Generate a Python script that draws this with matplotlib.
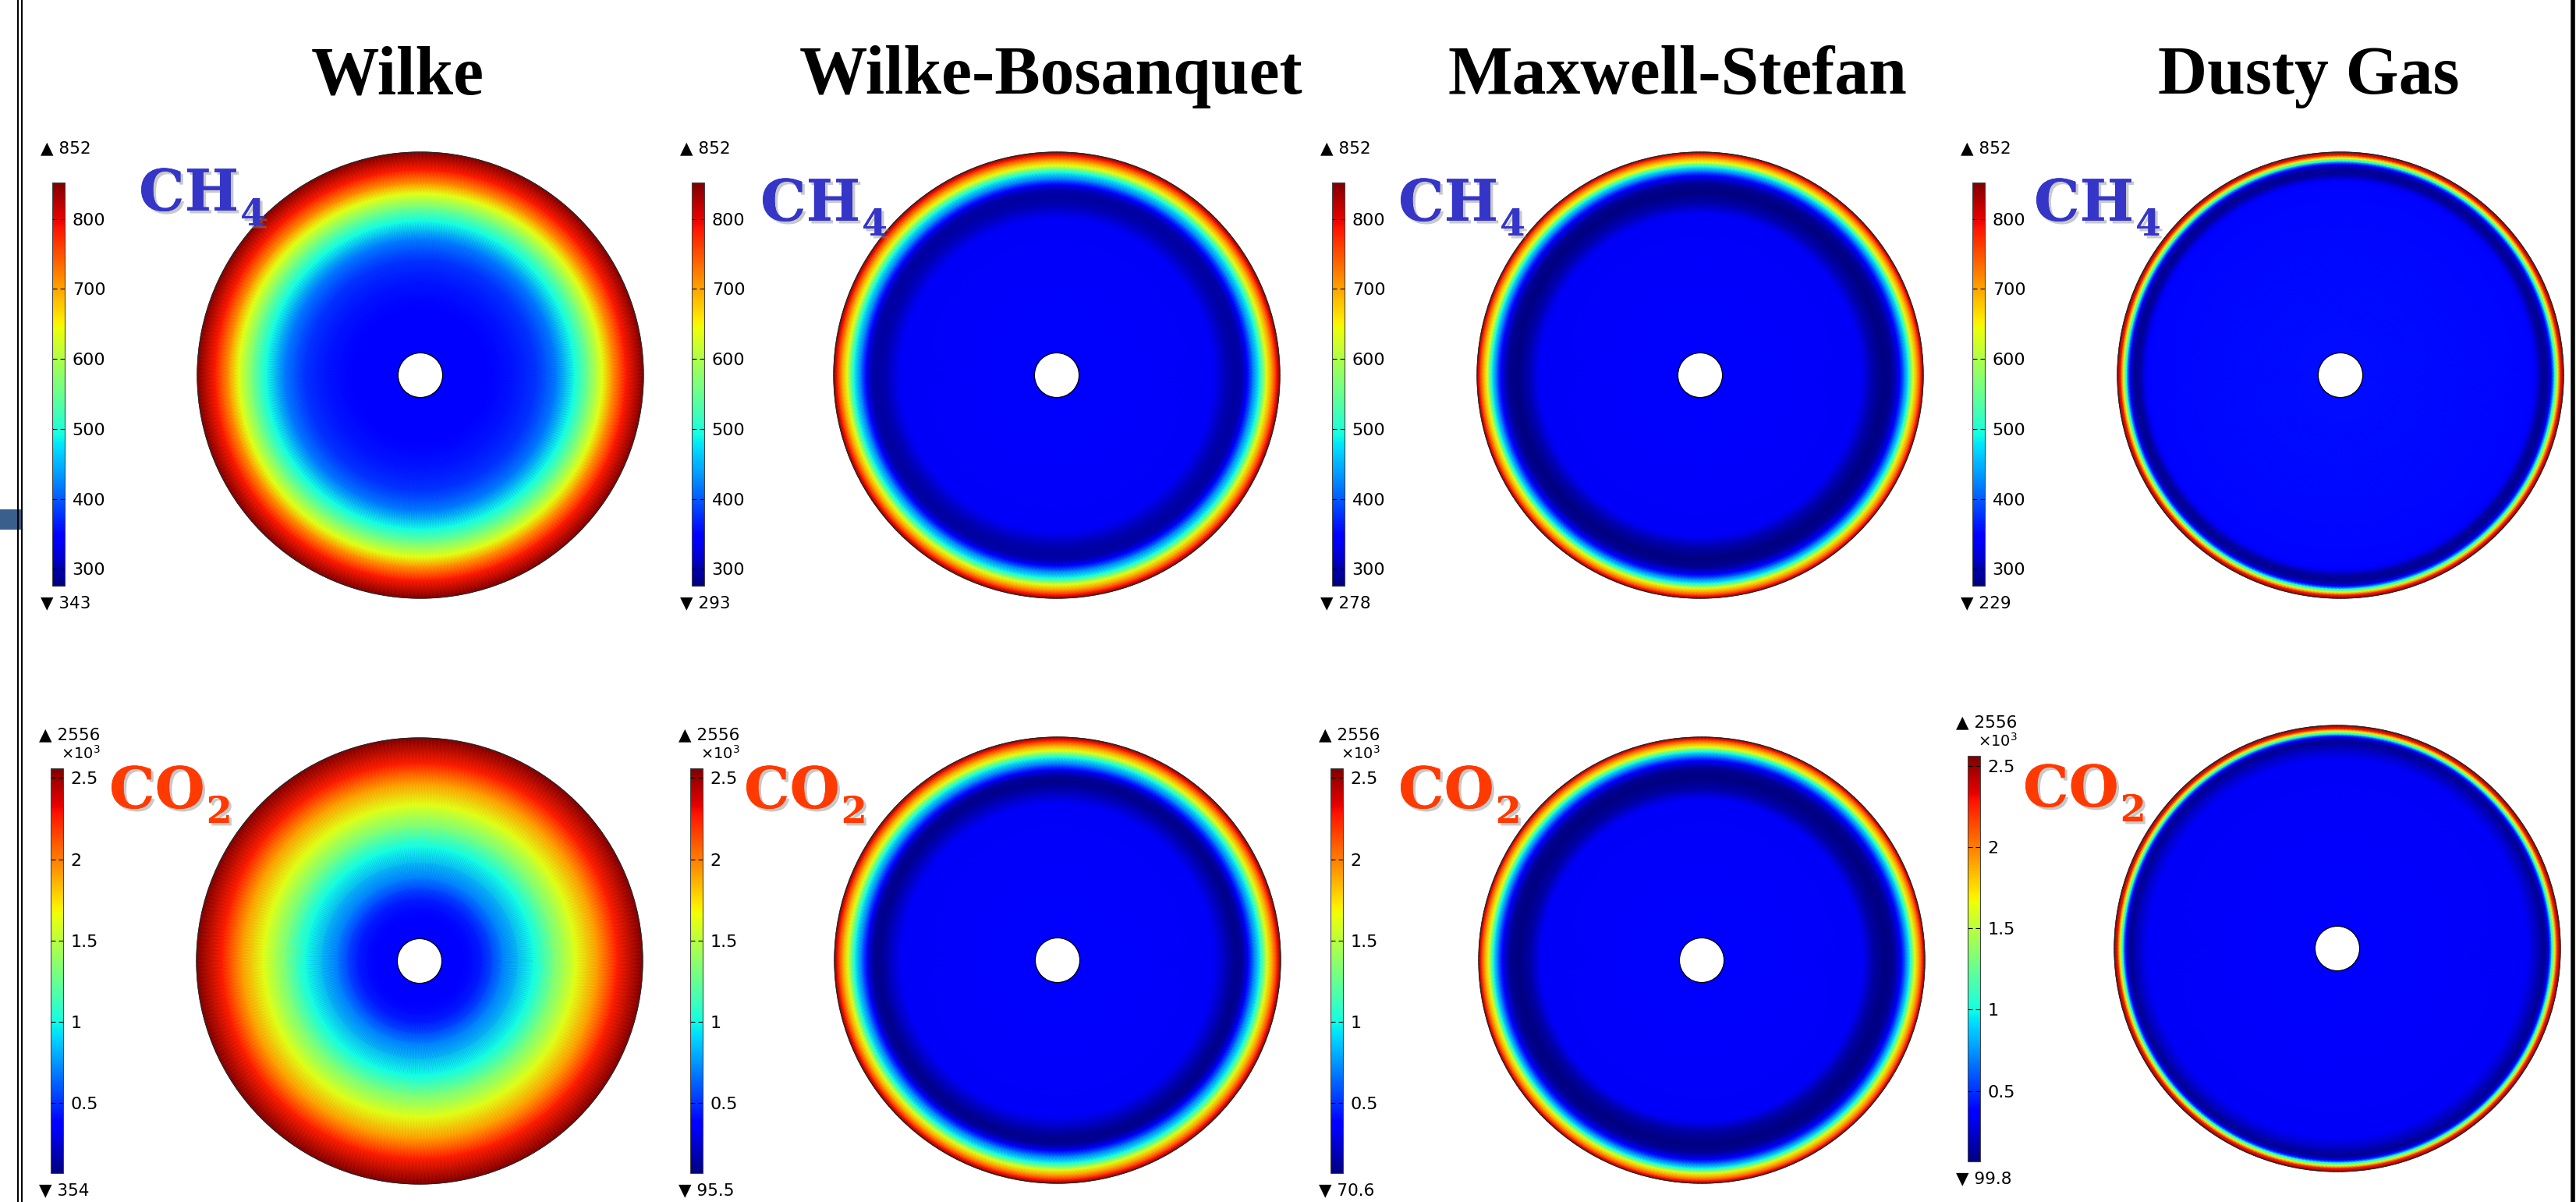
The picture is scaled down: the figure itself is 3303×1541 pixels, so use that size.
import numpy as np
import matplotlib
matplotlib.use('Agg')
import matplotlib.pyplot as plt
from matplotlib.patches import Circle, Rectangle
from matplotlib.lines import Line2D
import matplotlib.patheffects as pe

W, H = 3303, 1541

titles = ['Wilke', 'Wilke-Bosanquet', 'Maxwell-Stefan', 'Dusty Gas']

# radial profiles (r / R_outer, value)
ch4_r = [
    [0.1, 0.3, 0.42, 0.52, 0.61, 0.69, 0.755, 0.815, 0.86, 0.92, 1.0],
    [0.1, 0.7, 0.76, 0.8, 0.83, 0.855, 0.88, 0.91, 0.94, 0.965, 0.985, 1.0],
    [0.1, 0.72, 0.77, 0.82, 0.86, 0.895, 0.915, 0.935, 0.955, 0.975, 0.99, 1.0],
    [0.1, 0.84, 0.87, 0.9, 0.925, 0.946, 0.96, 0.973, 0.987, 1.0],
]
ch4_v = [
    [343, 345, 360, 378, 418, 490, 563, 638, 708, 783, 852],
    [340, 338, 305, 293, 300, 345, 420, 490, 638, 710, 783, 852],
    [340, 338, 300, 278, 285, 345, 420, 490, 638, 710, 783, 852],
    [355, 352, 345, 292, 287, 345, 490, 638, 783, 852],
]
co2_r = [
    [0.1, 0.2, 0.28, 0.37, 0.51, 0.6, 0.7, 0.8, 0.885, 1.0],
    [0.1, 0.7, 0.76, 0.8, 0.83, 0.855, 0.88, 0.91, 0.94, 0.965, 0.985, 1.0],
    [0.1, 0.72, 0.77, 0.82, 0.86, 0.895, 0.915, 0.935, 0.955, 0.975, 0.99, 1.0],
    [0.1, 0.85, 0.9, 0.93, 0.95, 0.962, 0.974, 0.986, 1.0],
]
co2_v = [
    [354, 370, 450, 690, 1000, 1310, 1620, 1930, 2250, 2556],
    [340, 335, 180, 96, 140, 350, 690, 1000, 1620, 1930, 2250, 2556],
    [340, 335, 150, 71, 110, 350, 690, 1000, 1620, 1930, 2250, 2556],
    [340, 330, 200, 100, 350, 1000, 1620, 2250, 2556],
]

ch4_max = ['852', '852', '852', '852']
ch4_min = ['343', '293', '278', '229']
co2_max = ['2556', '2556', '2556', '2556']
co2_min = ['354', '95.5', '70.6', '99.8']

ch4_range = (276, 852)
co2_range = (67, 2560)
ch4_ticks = [300, 400, 500, 600, 700, 800]
co2_ticks = [500, 1000, 1500, 2000, 2500]
co2_ticklabels = ['0.5', '1', '1.5', '2', '2.5']

# layout in pixels (from top-left)
disc_R = 286
disc_cx = [[539, 1355, 2180, 3001], [538, 1356, 2182, 2997]]
disc_cy = [[481, 481, 481, 481], [1232, 1231, 1231, 1216]]
bar_x = [[67, 887, 1708, 2529], [65, 885, 1706, 2523]]
bar_top = [[234, 234, 234, 234], [985, 985, 985, 969]]
bar_bot = [[751, 751, 751, 751], [1504, 1504, 1504, 1489]]
label_x = [[178, 975, 1793, 2608], [140, 954, 1793, 2594]]
label_base = [[270, 283, 283, 283], [1036, 1036, 1036, 1034]]
title_x = [510, 1348, 2151, 2960]


def fx(x):
    return x / W


def fy(y):
    return 1 - y / H


fig = plt.figure(figsize=(W / 100, H / 100), dpi=100)
fig.patch.set_facecolor('white')
renderer = fig.canvas.get_renderer()

for j, t in enumerate(titles):
    fig.text(fx(title_x[j]), fy(120), t, ha='center', va='baseline',
             family='Liberation Serif', weight='bold', fontsize=63, color='black')

shadow = [pe.withSimplePatchShadow(offset=(2.5, -2.5), shadow_rgbFace='#888888', alpha=0.45),
          pe.Normal()]

rows = [
    (ch4_r, ch4_v, ch4_range, ch4_ticks, [str(t) for t in ch4_ticks], ch4_max, ch4_min,
     'CH', '4', '#3535C8'),
    (co2_r, co2_v, co2_range, co2_ticks, co2_ticklabels, co2_max, co2_min,
     'CO', '2', '#FF3A00'),
]

theta = np.linspace(0, 2 * np.pi, 361)

for i, (rr, vv, vr, ticks, tlabels, vmax_l, vmin_l, sp, sub, scol) in enumerate(rows):
    for j in range(4):
        cx, cy = disc_cx[i][j], disc_cy[i][j]
        pad = disc_R * 1.01
        ax = fig.add_axes([fx(cx - pad), fy(cy + pad), 2 * pad / W, 2 * pad / H])
        r = np.array(rr[j])
        v = np.array(vv[j], dtype=float)
        Rg, Tg = np.meshgrid(r, theta)
        Cg = np.tile(v, (len(theta), 1))
        mesh = ax.pcolormesh(Rg * np.cos(Tg), Rg * np.sin(Tg), Cg, shading='gouraud',
                             cmap='jet', vmin=vr[0], vmax=vr[1])
        ax.add_patch(Circle((0, 0), 1.0, fill=False, ec='#2a2a2a', lw=0.9, zorder=3))
        ax.add_patch(Circle((0, 0), 0.1, fc='white', ec='black', lw=0.9, zorder=4))
        ax.set_xlim(-1.01, 1.01)
        ax.set_ylim(-1.01, 1.01)
        ax.set_aspect('equal')
        ax.axis('off')

        # colorbar
        bx, bt, bb = bar_x[i][j], bar_top[i][j], bar_bot[i][j]
        cax = fig.add_axes([fx(bx), fy(bb), 16 / W, (bb - bt) / H])
        cb = fig.colorbar(mesh, cax=cax, ticks=ticks)
        cb.set_ticklabels(tlabels)
        cb.outline.set_linewidth(0.8)
        cb.outline.set_edgecolor('#444444')
        cax.yaxis.set_ticks_position('both')
        cax.tick_params(axis='y', which='both', direction='in', length=4, width=0.8,
                        labelsize=16, pad=7, left=True, right=True,
                        labelleft=False, labelright=True)
        cax.minorticks_off()

        fig.text(fx(bx - 15), fy(bt - 44 if i == 0 else bt - 43), '\u25b2 ' + vmax_l[j],
                 ha='left', va='center', fontsize=15.5, family='DejaVu Sans')
        if i == 1:
            fig.text(fx(bx + 64), fy(bt - 19), r'$\times10^{3}$', ha='right', va='center',
                     fontsize=14)
        fig.text(fx(bx - 15), fy(bb + 22), '\u25bc ' + vmin_l[j],
                 ha='left', va='center', fontsize=15.5, family='DejaVu Sans')

        # species label, subscript placed right after the main letters
        lx, lb = label_x[i][j], label_base[i][j]
        t1 = fig.text(fx(lx), fy(lb), sp, ha='left', va='baseline', family='DejaVu Serif',
                      weight='bold', fontsize=53, color=scol)
        t1.set_path_effects(shadow)
        ext = t1.get_window_extent(renderer=renderer)
        t2 = fig.text(ext.x1 / W + fx(2), fy(lb + 19), sub, ha='left', va='baseline',
                      family='DejaVu Serif', weight='bold', fontsize=34, color=scol)
        t2.set_path_effects(shadow)

# page frame
for xl in (23, 28):
    fig.add_artist(Line2D([fx(xl), fx(xl)], [0, 1], transform=fig.transFigure,
                          color='black', lw=1.5))
fig.add_artist(Line2D([fx(3299), fx(3299)], [0, 1], transform=fig.transFigure,
                      color='black', lw=4))
fig.add_artist(Rectangle((0, fy(679)), fx(29), 26 / H, transform=fig.transFigure,
                         color='#3B5F8C', lw=0))

fig.savefig('out.png', dpi=100, facecolor='white')
